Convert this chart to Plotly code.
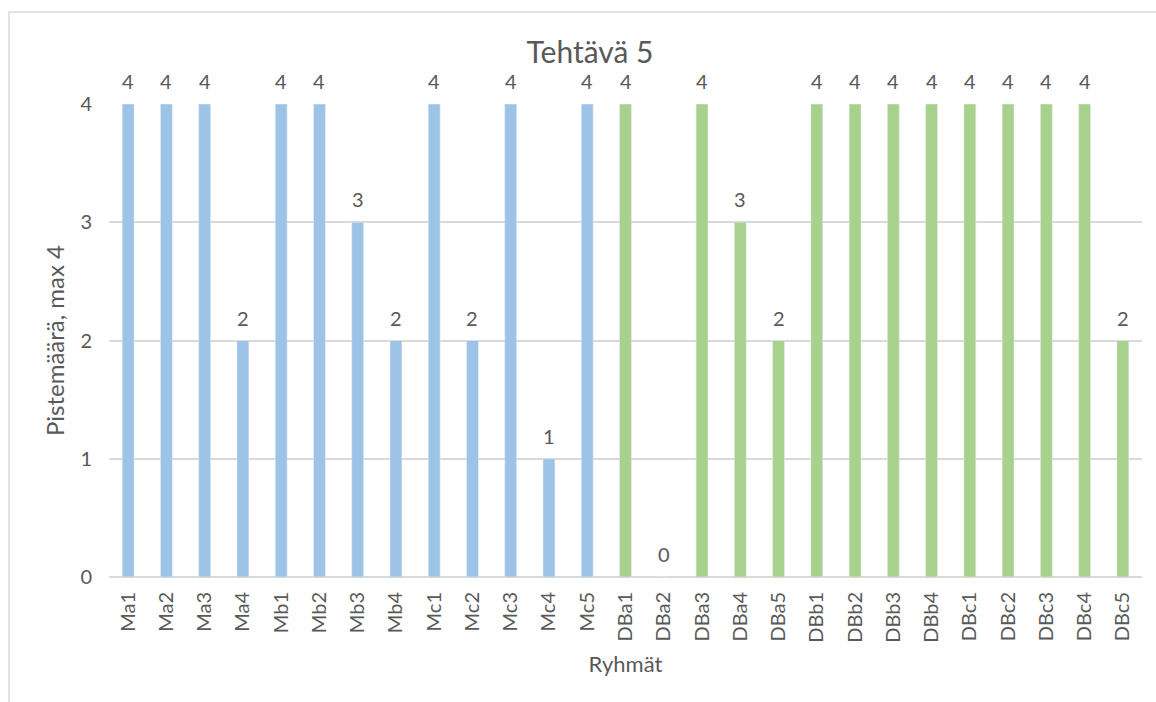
import plotly.graph_objects as go

groups = ["Ma1", "Ma2", "Ma3", "Ma4", "Mb1", "Mb2", "Mb3", "Mb4", "Mc1", "Mc2", "Mc3", "Mc4", "Mc5",
          "DBa1", "DBa2", "DBa3", "DBa4", "DBa5", "DBb1", "DBb2", "DBb3", "DBb4",
          "DBc1", "DBc2", "DBc3", "DBc4", "DBc5"]
scores = [4, 4, 4, 2, 4, 4, 3, 2, 4, 2, 4, 1, 4,
          4, 0, 4, 3, 2, 4, 4, 4, 4, 4, 4, 4, 4, 2]
y_ticks = [0, 1, 2, 3, 4]

BLUE = "#9DC3E6"
GREEN = "#A9D18E"
colors = [BLUE if g.startswith("M") else GREEN for g in groups]
TXT = "#595959"
GRID = "#D9D9D9"
FONT = "Lato, Open Sans, sans-serif"

L, R, T, B = 109, 14, 104, 125
W, H = 1156, 702
pw, ph = W - L - R, H - T - B

def px(x):
    return (x - L) / pw

def py(y):
    return (H - B - y) / ph

fig = go.Figure(go.Bar(x=groups, y=scores, marker_color=colors, width=0.31))

for g, v in zip(groups, scores):
    fig.add_annotation(x=g, y=v, text=str(v), showarrow=False, yshift=23,
                       yanchor="middle", font=dict(size=20, color=TXT, family=FONT))

fig.update_layout(
    width=W, height=H, margin=dict(l=L, r=R, t=T, b=B),
    paper_bgcolor="white", plot_bgcolor="white", showlegend=False,
    font=dict(family=FONT, color=TXT, size=20),
    title=dict(text="Tehtävä 5", x=px(590), xref="paper", xanchor="center",
               y=1 - 52 / H, yanchor="middle", font=dict(size=30, color=TXT, family=FONT)),
    xaxis=dict(tickangle=-90, showgrid=False, showline=False, zeroline=False,
               ticklabelstandoff=10, tickfont=dict(size=20, color=TXT),
               title=dict(text="Ryhmät", standoff=14, font=dict(size=22, color=TXT))),
    yaxis=dict(range=[0, 4], tickvals=y_ticks, showgrid=True, gridcolor=GRID, gridwidth=1.5,
               zeroline=True, zerolinecolor=GRID, zerolinewidth=1.5, showline=False,
               ticklabelstandoff=16, tickfont=dict(size=20, color=TXT),
               title=dict(text="Pistemäärä, max 4", standoff=8, font=dict(size=24, color=TXT))),
    shapes=[dict(type="path", xref="paper", yref="paper",
                 path=f"M {px(9)} {py(H + 5)} L {px(9)} {py(12)} L {px(W + 5)} {py(12)}",
                 line=dict(color=GRID, width=1.5))],
)

fig.write_html("out.html")
